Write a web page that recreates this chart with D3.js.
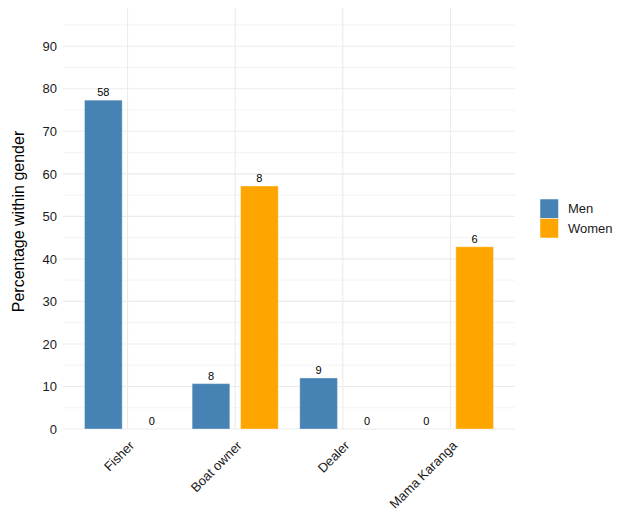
<!DOCTYPE html>
<html><head><meta charset="utf-8">
<script src="https://cdn.jsdelivr.net/npm/d3@7"></script>
<style>body{margin:0;background:#fff;} text{font-family:"Liberation Sans",Arial,sans-serif;}</style>
</head><body>
<svg id="c" width="624" height="515"></svg>
<script>
const categories = ["Fisher", "Boat owner", "Dealer", "Mama Karanga"];
const genders = ["Men", "Women"];
const menPct = [77.33, 10.67, 12.0, 0];
const womenPct = [0, 57.14, 0, 42.86];
const menCount = [58, 8, 9, 0];
const womenCount = [0, 8, 0, 6];
const yTicks = [0, 10, 20, 30, 40, 50, 60, 70, 80, 90];
const colors = {Men: "#4682B4", Women: "#FFA500"};

const data = [];
categories.forEach((c, i) => {
  data.push({cat: c, g: "Men", v: menPct[i], n: menCount[i]});
  data.push({cat: c, g: "Women", v: womenPct[i], n: womenCount[i]});
});

const svg = d3.select("#c");
const L = 63, R = 515, T = 8, B = 429;
const y = d3.scaleLinear().domain([0, 99]).range([B, T]);
const unit = (R - L) / (categories.length - 1 + 1.2);
const x = d3.scalePoint().domain(categories).range([L + 0.6 * unit, R - 0.6 * unit]);
const off = d3.scaleOrdinal().domain(genders).range([-0.225 * unit, 0.225 * unit]);
const bw = 0.35 * unit;

const g = svg.append("g");
// minor grid
d3.range(5, 99, 10).forEach(v => {
  g.append("line").attr("x1", L).attr("x2", R).attr("y1", y(v)).attr("y2", y(v))
   .attr("stroke", "#EBEBEB").attr("stroke-width", 0.6);
});
// major grid
yTicks.forEach(v => {
  g.append("line").attr("x1", L).attr("x2", R).attr("y1", y(v)).attr("y2", y(v))
   .attr("stroke", "#EBEBEB").attr("stroke-width", 1.1);
});
categories.forEach(c => {
  g.append("line").attr("x1", x(c)).attr("x2", x(c)).attr("y1", T).attr("y2", B)
   .attr("stroke", "#EBEBEB").attr("stroke-width", 1.1);
});

// y axis labels
const yAxis = d3.axisLeft(y).tickValues(yTicks).tickSize(0).tickPadding(6);
const ya = svg.append("g").attr("transform", `translate(${L},0)`).call(yAxis);
ya.select(".domain").remove();
ya.selectAll("text").attr("font-size", 13).attr("fill", "#1a1a1a")
  .attr("font-family", '"Liberation Sans",Arial,sans-serif');

// x axis labels
categories.forEach(c => {
  svg.append("text").attr("transform", `translate(${x(c) + 1},${B + 11}) rotate(-45)`)
    .attr("text-anchor", "end").attr("font-size", 13).attr("fill", "#1a1a1a")
    .attr("dy", "0.7em").text(c);
});

// bars
svg.append("g").selectAll("rect").data(data.filter(d => d.v > 0)).join("rect")
  .attr("x", d => x(d.cat) + off(d.g) - bw / 2)
  .attr("width", bw)
  .attr("y", d => y(d.v))
  .attr("height", d => y(0) - y(d.v))
  .attr("fill", d => colors[d.g])
  .attr("stroke", "rgba(255,255,255,0.35)").attr("stroke-width", 1);

// value labels
svg.append("g").selectAll("text").data(data).join("text")
  .attr("x", d => x(d.cat) + off(d.g))
  .attr("y", d => y(d.v) - 4)
  .attr("text-anchor", "middle").attr("font-size", 11).attr("fill", "#000")
  .text(d => d.n);

// y title
svg.append("text").attr("transform", `translate(24,${(T + B) / 2 + 3}) rotate(-90)`)
  .attr("text-anchor", "middle").attr("font-size", 16).attr("fill", "#000")
  .text("Percentage within gender");

// legend
const lg = svg.append("g").attr("transform", "translate(540,199)");
genders.forEach((s, i) => {
  lg.append("rect").attr("x", 0).attr("y", i * 19.5).attr("width", 18.5).attr("height", 19.5)
    .attr("fill", colors[s]).attr("stroke", "#fff").attr("stroke-width", 0.5);
  lg.append("text").attr("x", 28).attr("y", i * 19.5 + 9.5).attr("dy", "0.35em")
    .attr("font-size", 13).attr("fill", "#1a1a1a").text(s);
});
</script>
</body></html>
